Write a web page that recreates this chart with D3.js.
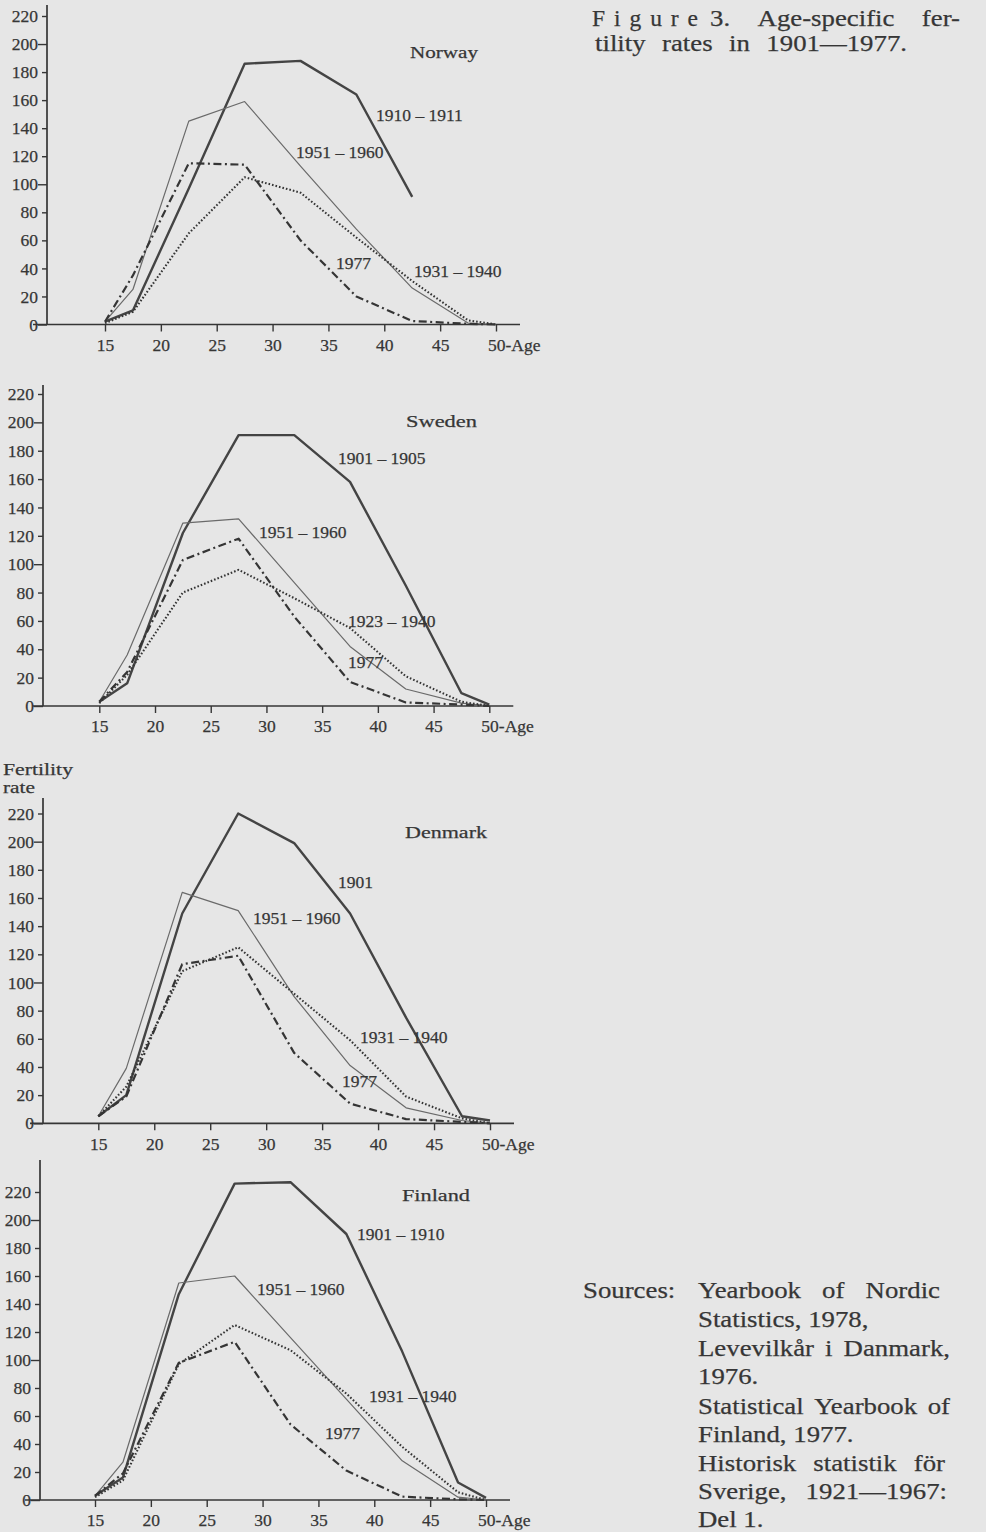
<!DOCTYPE html>
<html><head><meta charset="utf-8">
<script src="https://cdn.jsdelivr.net/npm/d3@7"></script>
<style>
html,body{margin:0;padding:0;background:#e6e6e6;}
svg{display:block;}
</style></head><body>
<svg id="c" width="986" height="1532"></svg>
<script>
// ---------- data ----------
const ages = [15, 17.5, 22.5, 27.5, 32.5, 37.5, 42.5, 47.5, 50];
const xTicks = [15, 20, 25, 30, 35, 40, 45, 50];
const yTicks = [0, 20, 40, 60, 80, 100, 120, 140, 160, 180, 200, 220];
const yMajor = [0, 100, 200];

const norway1910 = [2, 10, 97, 186, 188, 164, 91];
const norway1951 = [2, 25, 145, 159, 113, 68, 26, 1, 0];
const norway1977 = [2, 35, 115, 114, 60, 20, 2.5, 0.5, 0];
const norway1931 = [1, 9, 65, 105, 94, 62, 31, 3, 0];

const sweden1901 = [3, 16, 122, 191, 191, 158, 85, 9, 1];
const sweden1951 = [3, 36, 129, 132, 87, 42, 12, 2, 0];
const sweden1977 = [3, 24, 103, 118, 63, 17, 2.5, 1, 0];
const sweden1923 = [2, 22, 80, 96, 76, 55, 21, 3, 0];

const denmark1901 = [5, 20, 149, 220, 199, 149, 75, 5, 2];
const denmark1951 = [5, 39, 164, 151, 90, 41, 11, 2, 0];
const denmark1977 = [5, 19, 113, 119, 50, 14, 3, 1, 0];
const denmark1931 = [5, 26, 108, 125, 92, 59, 19, 3.5, 0];

const finland1901 = [3, 16, 147, 226, 227, 190, 106, 12.5, 1.5];
const finland1951 = [3, 27, 155, 160, 116, 72, 28, 2, 0];
const finland1977 = [3, 19, 98, 113, 54, 21, 2.4, 0.5, 0];
const finland1931 = [2, 14, 97, 125, 107, 76, 38, 5.5, 0];

const countries = ["Norway", "Sweden", "Denmark", "Finland"];
const titleLine1a = "Figure";
const titleLine1b = ["3.", "Age-specific", "fer-"];
const titleLine2 = ["tility", "rates", "in", "1901—1977."];
const sourcesHead = "Sources:";
const sourcesLines = [
  ["Yearbook of Nordic", true],
  ["Statistics, 1978,", false],
  ["Levevilkår i Danmark,", true],
  ["1976.", false],
  ["Statistical Yearbook of", true],
  ["Finland, 1977.", false],
  ["Historisk statistik för", true],
  ["Sverige, 1921—1967:", true],
  ["Del 1.", false]
];

// ---------- styles ----------
const INK = "#363636";
const TXT_STROKE = 0.25;
const styles = {
  thick:   {stroke: "#444444", width: 2.4, dash: null},
  thin:    {stroke: "#6a6a6a", width: 1.2, dash: null},
  dashdot: {stroke: "#353535", width: 2.2, dash: "8,3.5,2,3.5"},
  dotted:  {stroke: "#353535", width: 2.1, dash: "1.6,2.0"}
};
const SERIF = "'Liberation Serif', 'Times New Roman', serif";

function ink(sel, size) {
  return sel.attr("font-family", SERIF).attr("font-size", size).attr("fill", INK)
    .attr("stroke", INK).attr("stroke-width", TXT_STROKE);
}

// ---------- layout ----------
const panels = [
  {name: "Norway", x15: 105, x50: 496, y0: 324.5, y220: 16, axisX: 47, axisTop: 5, axisLeft: 33,
   nameLabel: [410, 58, 68],
   series: [
     {v: norway1910, s: "thick",   label: "1910 – 1911", lx: 376, ly: 121},
     {v: norway1951, s: "thin",    label: "1951 – 1960", lx: 296, ly: 158},
     {v: norway1977, s: "dashdot", label: "1977",        lx: 336, ly: 269},
     {v: norway1931, s: "dotted",  label: "1931 – 1940", lx: 414, ly: 277}
   ]},
  {name: "Sweden", x15: 99.3, x50: 489.3, y0: 706, y220: 394, axisX: 43, axisTop: 385, axisLeft: 33,
   nameLabel: [406, 427, 71],
   series: [
     {v: sweden1901, s: "thick",   label: "1901 – 1905", lx: 338, ly: 464},
     {v: sweden1951, s: "thin",    label: "1951 – 1960", lx: 259, ly: 538},
     {v: sweden1977, s: "dashdot", label: "1977",        lx: 348, ly: 668},
     {v: sweden1923, s: "dotted",  label: "1923 – 1940", lx: 348, ly: 627}
   ]},
  {name: "Denmark", x15: 98.3, x50: 490, y0: 1123.3, y220: 813.5, axisX: 43, axisTop: 798, axisLeft: 30,
   nameLabel: [405, 838, 82],
   series: [
     {v: denmark1901, s: "thick",   label: "1901",        lx: 338, ly: 888},
     {v: denmark1951, s: "thin",    label: "1951 – 1960", lx: 253, ly: 924},
     {v: denmark1977, s: "dashdot", label: "1977",        lx: 342, ly: 1087},
     {v: denmark1931, s: "dotted",  label: "1931 – 1940", lx: 360, ly: 1043}
   ]},
  {name: "Finland", x15: 95, x50: 486, y0: 1500, y220: 1192, axisX: 40, axisTop: 1160, axisLeft: 25,
   nameLabel: [402, 1201, 68],
   series: [
     {v: finland1901, s: "thick",   label: "1901 – 1910", lx: 357, ly: 1240},
     {v: finland1951, s: "thin",    label: "1951 – 1960", lx: 257, ly: 1295},
     {v: finland1977, s: "dashdot", label: "1977",        lx: 325, ly: 1439},
     {v: finland1931, s: "dotted",  label: "1931 – 1940", lx: 369, ly: 1402}
   ]}
];

const svg = d3.select("#c");
svg.append("rect").attr("width", 986).attr("height", 1532).attr("fill", "#e6e6e6");

panels.forEach(p => {
  const x = d3.scaleLinear().domain([15, 50]).range([p.x15, p.x50]);
  const y = d3.scaleLinear().domain([0, 220]).range([p.y0, p.y220]);
  const g = svg.append("g").attr("class", "panel");

  // axis lines
  g.append("line").attr("x1", p.axisX).attr("x2", p.axisX)
    .attr("y1", p.axisTop).attr("y2", y(0))
    .attr("stroke", INK).attr("stroke-width", 1.7);
  g.append("line").attr("x1", p.axisLeft).attr("x2", x(50) + 24)
    .attr("y1", y(0)).attr("y2", y(0))
    .attr("stroke", INK).attr("stroke-width", 1.7);

  // y axis
  const ya = g.append("g").attr("transform", `translate(${p.axisX},0)`)
    .call(d3.axisLeft(y).tickValues(yTicks).tickSizeInner(5).tickSizeOuter(0).tickPadding(4));
  ya.select(".domain").remove();
  ya.selectAll(".tick line").attr("stroke", INK).attr("stroke-width", 1.4)
    .attr("x2", d => yMajor.includes(d) ? -9 : -5);
  ink(ya.selectAll(".tick text"), 17.5);

  // x axis
  const xa = g.append("g").attr("transform", `translate(0,${y(0)})`)
    .call(d3.axisBottom(x).tickValues(xTicks).tickSizeInner(7).tickSizeOuter(0).tickPadding(7)
      .tickFormat(d => d === 50 ? "50-Age" : d));
  xa.select(".domain").remove();
  xa.selectAll(".tick line").attr("stroke", INK).attr("stroke-width", 1.4);
  ink(xa.selectAll(".tick text"), 17.5)
    .filter(d => d === 50).attr("text-anchor", "start").attr("x", -8.5);

  // series
  p.series.forEach(s => {
    const st = styles[s.s];
    const line = d3.line().x((d, i) => x(ages[i])).y(d => y(d));
    g.append("path").datum(s.v).attr("d", line)
      .attr("fill", "none").attr("stroke", st.stroke).attr("stroke-width", st.width)
      .attr("stroke-dasharray", st.dash).attr("stroke-linejoin", "round");
    ink(g.append("text").attr("x", s.lx).attr("y", s.ly).text(s.label), 17.5);
  });

  ink(g.append("text").attr("x", p.nameLabel[0]).attr("y", p.nameLabel[1]).text(p.name), 17.5)
    .attr("textLength", p.nameLabel[2]).attr("lengthAdjust", "spacingAndGlyphs");
});

// Y axis title (Denmark panel)
ink(svg.append("text").attr("x", 3).attr("y", 775).text("Fertility"), 17.5)
  .attr("textLength", 70).attr("lengthAdjust", "spacingAndGlyphs");
ink(svg.append("text").attr("x", 3).attr("y", 793).text("rate"), 17.5)
  .attr("textLength", 32).attr("lengthAdjust", "spacingAndGlyphs");

// ---------- text blocks ----------
const FS = 23.5, K = 1.14;
function textLine(words, x0, yb, width, justify) {
  const nodes = words.map(w => ink(svg.append("text").attr("y", yb).text(w), FS));
  const ws = nodes.map(n => n.node().getComputedTextLength() * K);
  nodes.forEach((n, i) => n.attr("textLength", ws[i]).attr("lengthAdjust", "spacingAndGlyphs"));
  const gap = (justify && words.length > 1) ? (width - d3.sum(ws)) / (words.length - 1) : 0.25 * FS * K;
  let cx = x0;
  nodes.forEach((n, i) => { n.attr("x", cx); cx += ws[i] + gap; });
}

// title
ink(svg.append("text").attr("x", 592).attr("y", 26).text(titleLine1a), FS)
  .attr("textLength", 106).attr("lengthAdjust", "spacing");
textLine(titleLine1b, 710, 26, 250, true);
textLine(titleLine2, 595, 51, 312, true);

// sources
textLine([sourcesHead], 583, 1298, 87, false);
const srcBase = [1298, 1327, 1356, 1384, 1414, 1442, 1471, 1499, 1527];
const srcRight = [940, 0, 950, 0, 950, 0, 945, 947, 0];
sourcesLines.forEach((l, i) => {
  textLine(l[0].split(" "), 698, srcBase[i], srcRight[i] - 698, l[1]);
});
</script>
</body></html>
